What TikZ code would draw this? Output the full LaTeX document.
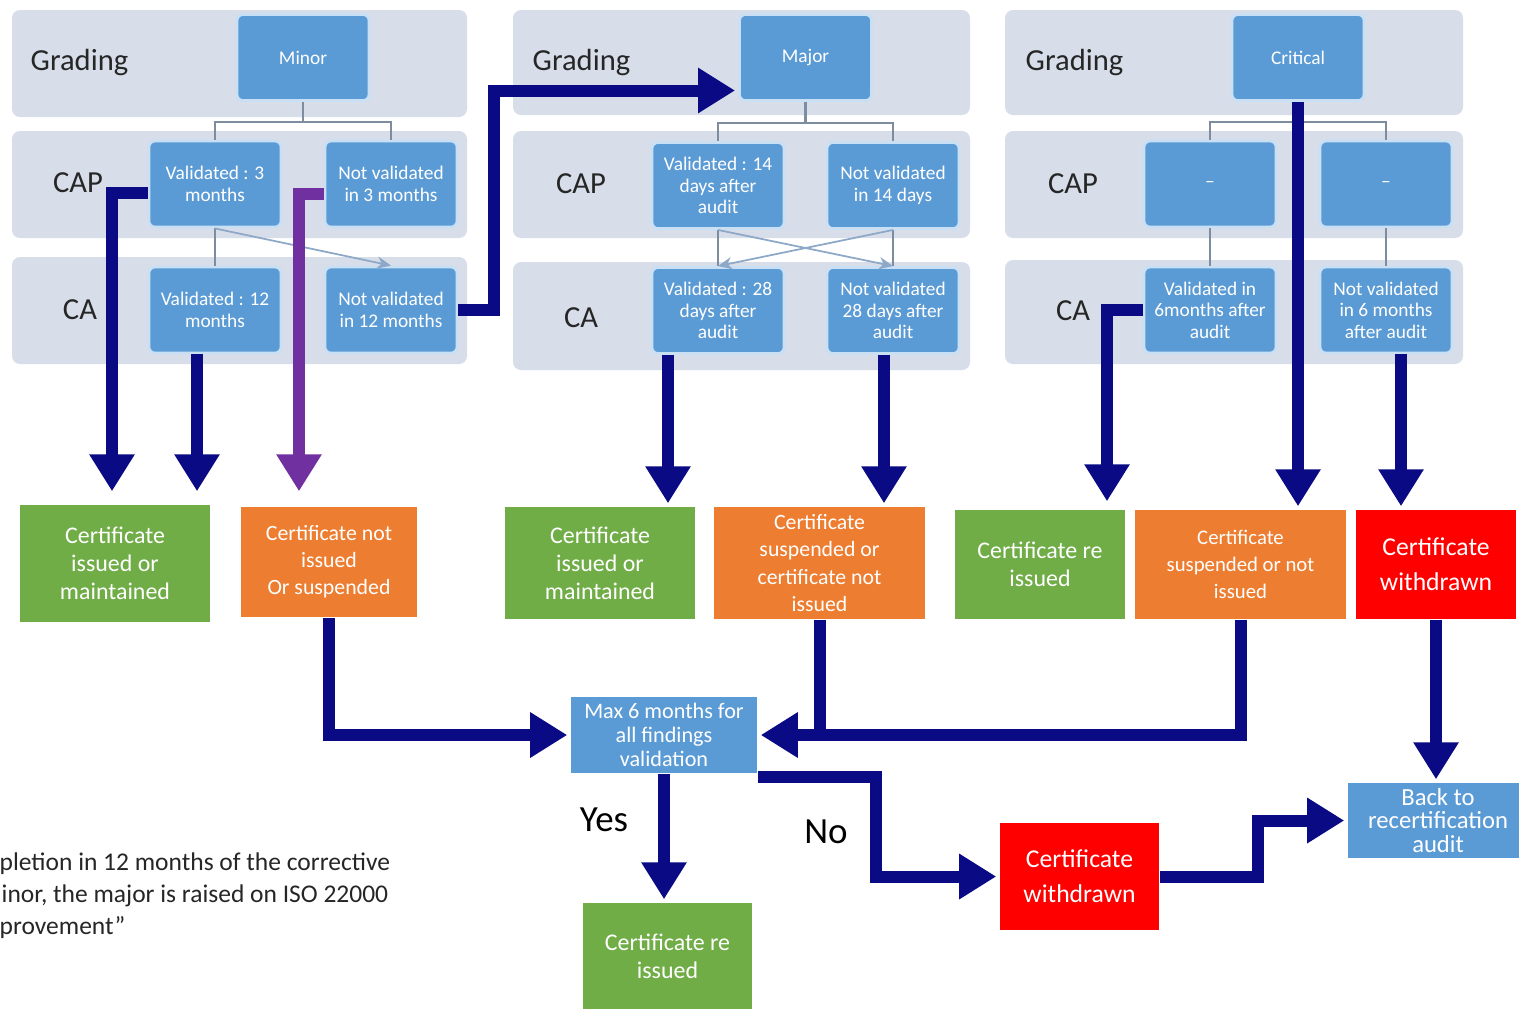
\documentclass[tikz,border=0pt]{standalone}
\usepackage{fontspec}
\setmainfont{Carlito}
\usetikzlibrary{arrows.meta,calc}

\definecolor{panelbg}{HTML}{D7DEEA}
\definecolor{boxblue}{HTML}{5B9BD5}
\definecolor{boxedge}{HTML}{C9E0F4}
\definecolor{linkgrey}{HTML}{7D8C9E}
\definecolor{crossgrey}{HTML}{8EA9C8}
\definecolor{certgreen}{HTML}{70AD47}
\definecolor{certorange}{HTML}{ED7D31}
\definecolor{certred}{HTML}{FF0000}
\definecolor{flownavy}{HTML}{0A0A85}
\definecolor{flowpurple}{HTML}{7030A0}
\definecolor{labeltext}{HTML}{262626}

\begin{document}
\begin{tikzpicture}[x=0.01cm, y=-0.01cm,
	panel/.style={fill=panelbg, rounded corners=0.08cm},
	rowlabel/.style={text=labeltext, inner sep=0pt, font=\fontsize{8.7}{10}\selectfont},
	gradebox/.style={fill=boxblue, draw=boxedge, line width=0.8pt, rounded corners=0.06cm,
		minimum width=1.32cm, minimum height=0.86cm, inner sep=0pt, align=center,
		text=white, font=\fontsize{5.5}{6.1}\selectfont},
	certbox/.style={inner sep=0pt, align=center, text=white},
	thinlink/.style={draw=linkgrey, line width=0.6pt},
	crosslink/.style={draw=crossgrey, line width=0.5pt, -{Stealth[length=4pt,width=3.5pt]}},
	bigarrow/.style={draw=flownavy, line width=0.12cm, shorten >=0.03cm,
		-{Triangle[width=0.43cm,length=0.37cm]}},
	bigline/.style={draw=flownavy, line width=0.12cm},
	purplearrow/.style={bigarrow, draw=flowpurple},
	answer/.style={text=black, font=\fontsize{10.5}{12}\selectfont},
	notetext/.style={text=labeltext, anchor=west, inner sep=0pt, font=\fontsize{7.25}{9}\selectfont}]

	\useasboundingbox (0,0) rectangle (1519,1008);
	\fill[white] (0,0) rectangle (1519,1008);

	% row panels
	\fill[panel] (12,10) rectangle (467,117);
	\fill[panel] (12,131) rectangle (467,238);
	\fill[panel] (12,257) rectangle (467,364);
	\fill[panel] (513,10) rectangle (970,115);
	\fill[panel] (513,131) rectangle (970,238);
	\fill[panel] (513,262) rectangle (970,370);
	\fill[panel] (1005,10) rectangle (1463,115);
	\fill[panel] (1005,131) rectangle (1463,238);
	\fill[panel] (1005,260) rectangle (1463,364);

	\node[rowlabel, anchor=west] (grade1) at (30,62) {Grading};
	\node[rowlabel] (cap1) at (78,183) {CAP};
	\node[rowlabel] (ca1) at (80,310) {CA};
	\node[rowlabel, anchor=west] (grade2) at (532,62) {Grading};
	\node[rowlabel] (cap2) at (581,184) {CAP};
	\node[rowlabel] (ca2) at (581,318) {CA};
	\node[rowlabel, anchor=west] (grade3) at (1025,62) {Grading};
	\node[rowlabel] (cap3) at (1073,184) {CAP};
	\node[rowlabel] (ca3) at (1073,311) {CA};

	% minor
	\node[gradebox] (minor) at (303,57.5) {Minor};
	\node[gradebox] (v3) at (215,184) {Validated : 3\\months};
	\node[gradebox] (n3) at (391,184) {Not validated\\in 3 months};
	\node[gradebox] (v12) at (215,310) {Validated : 12\\months};
	\node[gradebox] (n12) at (391,310) {Not validated\\in 12 months};
	\draw[thinlink] (v3.north) |- ($(minor.south)+(0,20)$) -| (n3.north);
	\draw[thinlink] (minor.south) -- ++(0,20);
	\draw[thinlink] (v3.south) -- (v12.north);
	\draw[crosslink] (v3.south) -- (n12.north);

	% major
	\node[gradebox] (major) at (805.5,57.5) {Major};
	\node[gradebox] (v14) at (718,185.5) {Validated : 14\\days after\\audit};
	\node[gradebox] (n14) at (893,185.5) {Not validated\\in 14 days};
	\node[gradebox] (v28) at (718,310.5) {Validated : 28\\days after\\audit};
	\node[gradebox] (n28) at (893,310.5) {Not validated\\28 days after\\audit};
	\draw[thinlink] (v14.north) |- ($(major.south)+(0,21)$) -| (n14.north);
	\draw[thinlink] (major.south) -- ++(0,21);
	\draw[thinlink] (v14.south) -- (v28.north);
	\draw[thinlink] (n14.south) -- (n28.north);
	\draw[crosslink] (v14.south) -- (n28.north);
	\draw[crosslink] (n14.south) -- (v28.north);

	% critical
	\node[gradebox] (critical) at (1298,57.5) {Critical};
	\node[gradebox] (c1) at (1210,184) {--};
	\node[gradebox] (c2) at (1386,184) {--};
	\node[gradebox] (v6) at (1210,310) {Validated in\\6months after\\audit};
	\node[gradebox] (n6) at (1386,310) {Not validated\\in 6 months\\after audit};
	\draw[thinlink] (c1.north) |- ($(critical.south)+(0,20)$) -| (c2.north);
	\draw[thinlink] (c1.south) -- (v6.north);
	\draw[thinlink] (c2.south) -- (n6.north);

	% outcomes
	\node[certbox, fill=certgreen, minimum width=1.9cm, minimum height=1.17cm,
		font=\fontsize{6.8}{8}\selectfont] (g1) at (115,563.5) {Certificate\\issued or\\maintained};
	\node[certbox, fill=certorange, minimum width=1.76cm, minimum height=1.1cm,
		font=\fontsize{6.2}{7.7}\selectfont] (o1) at (329,562) {Certificate not\\issued\\Or suspended};
	\node[certbox, fill=certgreen, minimum width=1.9cm, minimum height=1.12cm,
		font=\fontsize{6.8}{8}\selectfont] (g2) at (600,563) {Certificate\\issued or\\maintained};
	\node[certbox, fill=certorange, minimum width=2.11cm, minimum height=1.12cm,
		font=\fontsize{6.2}{7.7}\selectfont] (o2) at (819.5,563) {Certificate\\suspended or\\certificate not\\issued};
	\node[certbox, fill=certgreen, minimum width=1.7cm, minimum height=1.09cm,
		font=\fontsize{6.8}{8}\selectfont] (g3) at (1040,564.5) {Certificate re\\issued};
	\node[certbox, fill=certorange, minimum width=2.11cm, minimum height=1.09cm,
		font=\fontsize{5.9}{7.7}\selectfont] (o3) at (1240.5,564.5) {Certificate\\suspended or not\\issued};
	\node[certbox, fill=certred, minimum width=1.6cm, minimum height=1.09cm,
		font=\fontsize{7.3}{10}\selectfont] (r1) at (1436,564.5) {Certificate\\withdrawn};

	\node[certbox, fill=boxblue, minimum width=1.86cm, minimum height=0.76cm,
		font=\fontsize{6.3}{6.8}\selectfont] (maxv) at (664,735) {Max 6 months for\\all findings\\validation};
	\node[certbox, fill=certgreen, minimum width=1.69cm, minimum height=1.12cm] (g4) at (667.5,959) {};
	\node[text=white, align=center, font=\fontsize{6.8}{8}\selectfont] (g4text) at (667.5,956) {Certificate re\\issued};
	\node[certbox, fill=certred, minimum width=1.59cm, minimum height=1.07cm,
		font=\fontsize{7.3}{10}\selectfont] (r2) at (1079.5,876.5) {Certificate\\withdrawn};
	\node[certbox, fill=boxblue, minimum width=1.8cm, minimum height=0.75cm,
		font=\fontsize{7.0}{6.8}\selectfont] (back) at (1438,820.5) {Back to\\recertification\\audit};

	\node[answer] (yes) at (604,820) {Yes};
	\node[answer] (no) at (826,832) {No};

	\node[notetext] (note1) at (-1,864) {pletion in 12 months of the corrective};
	\node[notetext] (note2) at (1,896) {inor, the major is raised on ISO 22000};
	\node[notetext] (note3) at (-1,928) {provement”};

	% thick flow arrows
	\coordinate (p2) at ($(v12.south)+(-18,0)$);
	\coordinate (p5) at ($(v28.south)+(-50,0)$);
	\coordinate (p6) at ($(n28.south)+(-9,0)$);
	\coordinate (p9) at ($(n6.south)+(15,0)$);
	\draw[bigarrow] ($(v3.west)+(0,9)$) -| ($(g1.north)+(-3,-10)$);
	\draw[bigarrow] (p2) -- ($(p2 |- g1.north)+(0,-10)$);
	\draw[purplearrow] ($(n3.west)+(0,10)$) -| ($(o1.north)+(-30,-12)$);
	\draw[bigarrow] (n12.east) -- ++(36,0) |- ($(major.west)+(0,33)$);
	\draw[bigarrow] (p5) -- (p5 |- g2.north);
	\draw[bigarrow] (p6) -- (p6 |- o2.north);
	\draw[bigarrow] (critical.south) -- (critical.south |- o3.north);
	\draw[bigarrow] (v6.west) -| ($(g3.north)+(67,-5)$);
	\draw[bigarrow] (p9) -- (p9 |- r1.north);

	\draw[bigarrow] (o1.south) |- (maxv.west);
	\draw[bigline] (o2.south) -- (o2.south |- maxv.east);
	\draw[bigarrow] (o3.south) |- (maxv.east);
	\draw[bigarrow] (maxv.south) -- (maxv.south |- g4.north);
	\draw[bigarrow] ($(maxv.south east)+(0,3)$) -- ++(118,0) |- (r2.west);
	\draw[bigarrow] (r2.east) -- ++(98,0) |- (back.west);
	\draw[bigarrow] (r1.south) -- (r1.south |- back.north);

\end{tikzpicture}
\end{document}
